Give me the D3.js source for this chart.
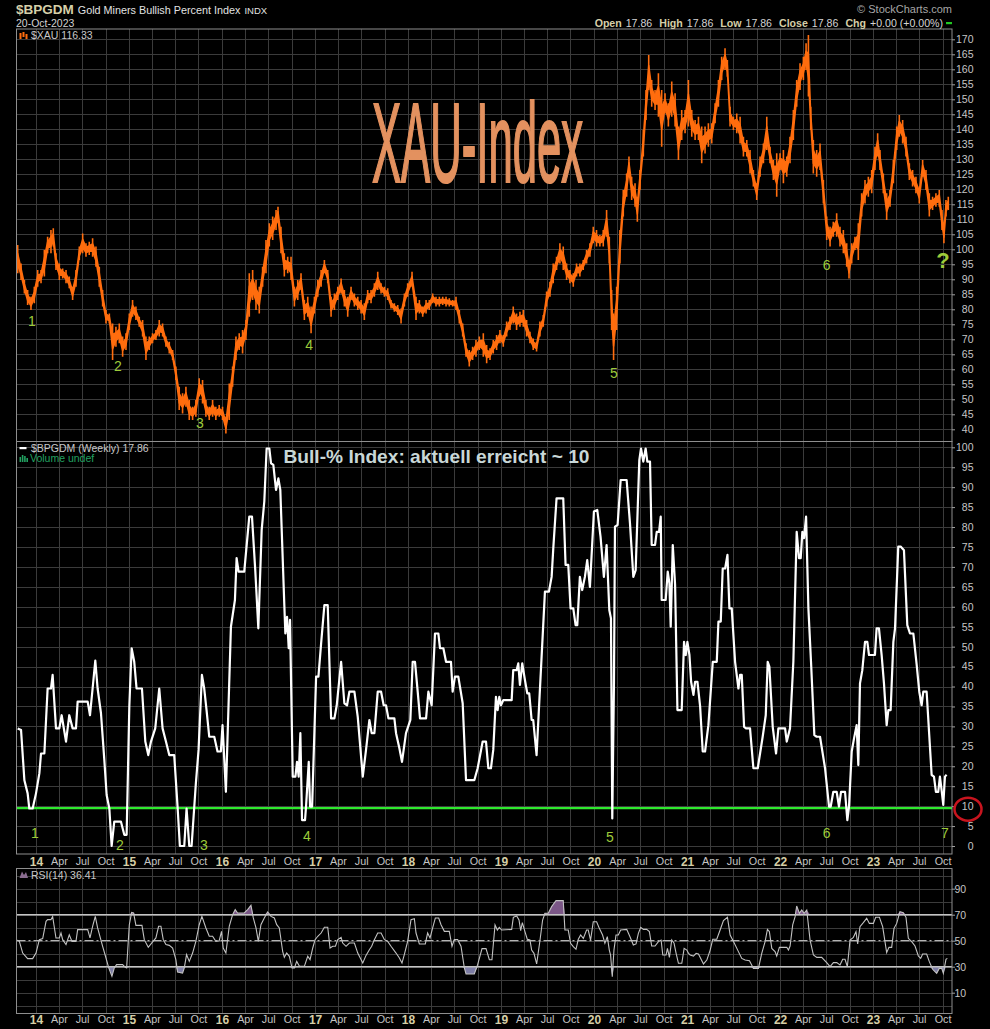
<!DOCTYPE html>
<html>
<head>
<meta charset="utf-8">
<script src="https://cdn.jsdelivr.net/npm/d3@7"></script>
<style>
html, body { margin: 0; padding: 0; background: #000; }
svg { display: block; }
text { font-family: "Liberation Sans", Arial, sans-serif; }
</style>
</head>
<body>
<div id="chart"></div>
<script>
// XAU: [decimal year, low, high]
const xauBars = [
[2013.803,92,101.4],[2013.839,89.8,95.3],[2013.875,85.3,89.8],[2013.910,81.4,86.4],[2013.946,79.8,84.2],
[2013.982,82,87.5],[2014.018,87.5,93.1],[2014.054,88.7,93.1],[2014.090,90.9,99.8],[2014.125,98.7,104.2],
[2014.161,98.7,106.4],[2014.186,100.9,107],[2014.215,93.1,98.7],[2014.251,89.8,95.3],[2014.287,90.3,93.6],
[2014.323,88.7,93.1],[2014.358,87,90.9],[2014.394,83.1,87.5],[2014.430,87.5,93.1],[2014.466,96.4,100.9],
[2014.502,98.7,105.3],[2014.538,97.5,102],[2014.573,98.1,102.5],[2014.609,97.5,103.7],[2014.645,94.2,100.9],
[2014.681,87.5,94.2],[2014.717,80.9,86.4],[2014.753,75.3,79.8],[2014.789,75.3,78.6],[2014.824,63.1,75.3],
[2014.860,67.5,74.2],[2014.896,68.7,75.3],[2014.932,64.2,70.9],[2014.968,66.4,72],[2015.004,73.1,78.6],
[2015.039,77.5,83.1],[2015.075,76.4,80.9],[2015.111,74.2,77.5],[2015.147,70.9,76.4],[2015.183,63.1,70.9],
[2015.219,66.4,70.9],[2015.254,68.7,72],[2015.290,69.8,73.1],[2015.326,70.9,76.4],[2015.362,70.9,75.3],
[2015.398,67.5,70.9],[2015.434,65.3,69.2],[2015.470,63.1,66.4],[2015.505,56.4,60.9],[2015.541,46.4,54.2],
[2015.577,45.3,52],[2015.613,47.5,54.2],[2015.649,43.1,49.8],[2015.685,43.1,47.5],[2015.720,44.2,49.8],
[2015.756,50.9,57],[2015.792,48.6,56.4],[2015.828,44.2,49.8],[2015.864,43.1,47.5],[2015.900,44.2,49.8],
[2015.935,43.1,47.5],[2015.971,44.2,48.1],[2016.007,43.1,47.5],[2016.043,38.6,44.2],[2016.079,43.1,55.3],
[2016.115,54.2,60.9],[2016.151,63.1,70.9],[2016.186,66.4,72],[2016.222,65.3,73.1],[2016.258,69.8,76.4],
[2016.294,77.5,92],[2016.330,83.1,93.1],[2016.366,79.8,89.8],[2016.401,78.6,87.5],[2016.437,87.5,94.2],
[2016.473,92,103.1],[2016.509,100.9,108.7],[2016.545,103.1,110.9],[2016.581,106.4,113.1],[2016.602,108.7,114.2],
[2016.634,98.7,107.5],[2016.670,90.9,98.7],[2016.706,92,97.5],[2016.742,89.8,97.5],[2016.778,80.9,87.5],
[2016.814,83.1,89.8],[2016.849,86.4,92],[2016.885,76.4,83.1],[2016.921,77.5,84.2],[2016.957,72,80.9],
[2016.993,78.6,84.2],[2017.029,84.2,89.8],[2017.065,87.5,93.1],[2017.100,92,96.4],[2017.136,88.7,93.1],
[2017.172,77.5,84.2],[2017.208,79.8,85.3],[2017.244,83.1,87.5],[2017.280,85.3,90.3],[2017.315,80.9,86.4],
[2017.351,77.5,84.2],[2017.387,83.1,87.5],[2017.423,80.9,85.3],[2017.459,79.8,84.2],[2017.495,78.6,83.1],
[2017.530,76.4,82],[2017.566,82,86.4],[2017.602,82,86.4],[2017.638,84.2,88.7],[2017.674,86.4,92.5],
[2017.710,85.3,88.7],[2017.746,84.2,87.5],[2017.781,83.1,87],[2017.817,80.3,83.1],[2017.853,79.2,82],
[2017.889,78.1,81.4],[2017.925,75.3,80.3],[2017.961,80.9,85.3],[2017.996,84.2,88.7],[2018.043,87.5,92.5],
[2018.086,76.4,84.2],[2018.122,78.6,83.1],[2018.158,77.5,80.9],[2018.194,78.6,83.1],[2018.229,79.8,83.1],
[2018.265,82,85.3],[2018.301,80.9,84.2],[2018.337,80.9,84.2],[2018.373,81.4,84.2],[2018.409,80.9,84.2],
[2018.444,80.9,83.7],[2018.480,80.9,83.1],[2018.516,79.8,84.2],[2018.552,75.3,79.8],[2018.588,70.9,75.3],
[2018.624,64.2,68.7],[2018.659,60.9,66.4],[2018.695,63.1,67.5],[2018.731,64.2,69.8],[2018.767,66.4,70.9],
[2018.810,64.2,72],[2018.846,62,68.1],[2018.882,63.1,67],[2018.917,65.3,69.8],[2018.953,66.4,71.4],
[2018.989,68.7,73.1],[2019.025,67.5,71.4],[2019.061,70.9,75.9],[2019.097,73.1,77.5],[2019.132,75.3,80.9],
[2019.168,73.1,78.6],[2019.204,74.2,79.2],[2019.240,74.2,79.8],[2019.276,70.9,76.4],[2019.312,68.7,72.5],
[2019.347,66.4,70.3],[2019.383,65.9,69.2],[2019.419,70.9,75.9],[2019.455,74.2,78.1],[2019.491,80.9,85.9],
[2019.527,84.2,89.2],[2019.562,88.7,95.3],[2019.598,93.1,97.5],[2019.634,95.3,102],[2019.670,93.1,100.9],
[2019.706,89.8,95.3],[2019.742,88.7,93.1],[2019.778,87.5,92],[2019.813,90.9,95.3],[2019.849,90.9,95.3],
[2019.885,93.1,96.4],[2019.921,95.3,99.8],[2019.957,97.5,102],[2019.993,102,107.5],[2020.028,100.9,106.4],
[2020.064,100.9,104.8],[2020.100,100.9,106.4],[2020.136,104.2,113.1],[2020.165,95.3,104.2],[2020.190,73.1,86.4],
[2020.211,63.1,78.6],[2020.244,73.1,87.5],[2020.279,95.3,106.4],[2020.315,110.9,119.8],[2020.351,117.5,125.3],
[2020.376,124.2,130.9],[2020.405,116.4,124.2],[2020.441,114.2,122],[2020.466,109.2,117.5],[2020.494,119.8,126.4],
[2020.530,130.9,139.8],[2020.559,143.1,153.1],[2020.588,153.1,164.8],[2020.620,147.5,156.4],[2020.656,146.4,153.1],
[2020.692,144.2,158.7],[2020.727,134.2,153.1],[2020.763,145.3,152],[2020.799,140.9,148.7],[2020.835,144.2,155.9],
[2020.871,140.9,152],[2020.907,129.8,140.9],[2020.942,136.4,146.4],[2020.978,138.7,146.4],[2021.014,140.9,156.4],
[2021.050,137.5,146.4],[2021.086,136.4,143.1],[2021.122,136.4,144.2],[2021.157,128.7,140.9],[2021.193,131.9,140.9],
[2021.229,134.2,142],[2021.265,135.3,142],[2021.301,142,148.7],[2021.337,147.5,156.4],[2021.372,156.4,164.2],
[2021.408,159.8,167],[2021.433,157.5,163.1],[2021.462,140.9,147.5],[2021.498,139.8,144.2],[2021.534,138.7,145.3],
[2021.570,135.3,144.2],[2021.606,130.9,137.5],[2021.642,130.9,136.4],[2021.677,125.3,133.1],[2021.713,120.9,126.4],
[2021.749,116.4,122],[2021.785,124.2,130.9],[2021.821,128.7,135.3],[2021.857,133.1,144.2],[2021.892,128.7,134.2],
[2021.928,123.1,129.8],[2021.964,117.5,132],[2022.000,126.4,132],[2022.036,122,133.1],[2022.072,124.2,130.9],
[2022.107,128.7,137.5],[2022.143,136.4,146.4],[2022.179,147.5,156.4],[2022.215,153.1,162],[2022.251,156.4,164.2],
[2022.280,159.8,168.7],[2022.305,150.9,171.4],[2022.330,139.8,147.5],[2022.358,125.3,136.4],[2022.394,124.2,133.1],
[2022.430,126.4,135.3],[2022.466,115.3,123.1],[2022.502,103.1,110.9],[2022.538,100.9,107.5],[2022.573,104.2,109.2],
[2022.609,104.2,112],[2022.645,100.9,107.5],[2022.681,98.7,106.4],[2022.717,94.2,102],[2022.742,90.3,96.4],
[2022.771,95.3,102],[2022.806,99.8,104.2],[2022.842,96.4,108.7],[2022.878,110.9,118.7],[2022.914,115.3,123.1],
[2022.950,117.5,124.2],[2022.986,118.7,126.4],[2023.021,126.4,134.2],[2023.050,130.9,138.7],[2023.075,126.4,133.1],
[2023.111,118.7,125.3],[2023.147,109.8,118.7],[2023.183,114.2,119.8],[2023.219,122,129.8],[2023.255,133.1,140.9],
[2023.283,137.5,144.8],[2023.319,135.3,143.1],[2023.355,130.9,137.5],[2023.391,123.1,128.7],[2023.426,120.9,126.4],
[2023.462,118.7,124.2],[2023.498,115.3,120.9],[2023.534,124.2,129.8],[2023.570,119.8,126.4],[2023.606,110.9,118.7],
[2023.641,113.1,117.5],[2023.677,114.2,118.7],[2023.713,114.2,119.8],[2023.742,106.4,113.1],[2023.763,102,108.7],
[2023.785,110.9,116.4],[2023.810,113.1,117.5]
];

// $BPGDM weekly: [decimal year, percent]
const bpgdm = [
[2013.803,29.5],[2013.839,29.1],[2013.875,16.5],[2013.910,13.2],[2013.928,9.4],[2013.964,9.4],[2014.000,13.2],
[2014.036,18.2],[2014.054,23.2],[2014.090,23.2],[2014.125,39.5],[2014.161,39.5],[2014.179,42.9],[2014.215,29.5],
[2014.251,29.5],[2014.276,32.8],[2014.323,26.2],[2014.358,32.8],[2014.394,29.5],[2014.430,29.5],[2014.448,36.2],
[2014.556,36.2],[2014.581,32.8],[2014.609,39.5],[2014.638,46.5],[2014.663,39.5],[2014.699,33.3],[2014.735,21.6],
[2014.760,12.8],[2014.789,9.4],[2014.814,0],[2014.842,6.1],[2014.914,6.1],[2014.950,2.8],[2014.975,2.8],
[2015.004,35],[2015.029,49.6],[2015.057,46.2],[2015.082,39.5],[2015.140,39.5],[2015.176,26.2],[2015.208,22.8],
[2015.237,26.2],[2015.283,29.5],[2015.326,39.5],[2015.362,29.5],[2015.398,26.2],[2015.434,22.8],[2015.487,22.8],
[2015.523,9.9],[2015.548,0],[2015.595,0],[2015.620,9.4],[2015.649,0],[2015.674,0],[2015.720,15.7],[2015.749,24.1],
[2015.785,42.9],[2015.810,39.5],[2015.835,34.1],[2015.864,27.4],[2015.918,27.4],[2015.953,23.7],[2015.989,23.7],
[2016.007,30.3],[2016.043,13.6],[2016.097,55],[2016.140,61.7],[2016.158,72.2],[2016.179,68.8],[2016.240,68.8],
[2016.294,82.6],[2016.323,82.6],[2016.358,69.2],[2016.391,54.6],[2016.427,79.3],[2016.455,86.4],[2016.480,99.7],
[2016.509,99.7],[2016.527,96],[2016.552,95.6],[2016.581,89.3],[2016.606,92.2],[2016.627,89.3],[2016.670,60.4],
[2016.681,53.3],[2016.699,57.5],[2016.717,49.6],[2016.731,56.7],[2016.760,17.4],[2016.789,17.4],[2016.806,21.1],
[2016.824,17.4],[2016.842,28.3],[2016.860,6.5],[2016.892,6.5],[2016.903,9.9],[2016.932,21.1],[2016.946,9.9],
[2016.968,9.9],[2017.011,42.5],[2017.036,42.5],[2017.065,50.8],[2017.100,60.4],[2017.136,60.4],[2017.172,32],
[2017.208,32],[2017.233,35.3],[2017.280,46.2],[2017.315,35.8],[2017.344,35.3],[2017.369,38.7],[2017.423,38.7],
[2017.459,32.4],[2017.513,17.4],[2017.548,24.1],[2017.584,31.6],[2017.609,28.3],[2017.638,28.3],[2017.674,38.7],
[2017.710,38.7],[2017.738,35.3],[2017.763,35.3],[2017.789,32],[2017.853,32],[2017.871,28.3],[2017.907,24.5],
[2017.935,21.1],[2017.978,28.3],[2018.025,31.6],[2018.050,46.2],[2018.075,46.2],[2018.104,38.7],[2018.129,32],
[2018.194,32],[2018.219,38.7],[2018.254,35.3],[2018.290,53.3],[2018.326,53.3],[2018.344,49.6],[2018.380,49.6],
[2018.409,46.2],[2018.462,46.2],[2018.480,38.7],[2018.505,42.5],[2018.541,42.5],[2018.588,35.8],[2018.624,16.5],
[2018.713,16.5],[2018.749,19.5],[2018.803,26.2],[2018.839,26.2],[2018.864,19.5],[2018.892,19.5],[2018.917,24.1],
[2018.946,37.4],[2018.964,34.1],[2018.982,37.4],[2019.000,35.3],[2019.025,36.6],[2019.115,36.6],[2019.132,44.1],
[2019.168,44.1],[2019.186,45.8],[2019.204,40.4],[2019.229,45.8],[2019.258,41.6],[2019.283,38.3],[2019.304,38.3],
[2019.330,31.6],[2019.347,31.6],[2019.383,22.8],[2019.473,63.8],[2019.516,63.8],[2019.545,67.5],[2019.563,74.7],
[2019.598,87.2],[2019.670,87.2],[2019.695,70.5],[2019.724,70.5],[2019.749,59.6],[2019.778,59.6],[2019.803,55.4],
[2019.821,55.4],[2019.849,67.5],[2019.874,64.2],[2019.903,67.5],[2019.928,71.7],[2019.957,65],[2020.000,83.9],
[2020.036,84.3],[2020.071,77.6],[2020.107,67.5],[2020.136,75.5],[2020.165,59.2],[2020.183,57.1],[2020.197,6.9],
[2020.215,40.8],[2020.226,80.1],[2020.254,80.5],[2020.287,91.8],[2020.351,91.8],[2020.387,80.9],[2020.423,67.5],
[2020.448,69.2],[2020.487,96.8],[2020.505,99.7],[2020.530,96.4],[2020.555,99.7],[2020.573,96.4],[2020.602,96.4],
[2020.620,75.5],[2020.656,75.5],[2020.674,78.8],[2020.699,78.8],[2020.717,82.6],[2020.727,61.7],[2020.770,61.7],
[2020.792,68.8],[2020.810,65.9],[2020.824,55],[2020.846,75.5],[2020.871,65.5],[2020.896,34.1],[2020.942,34.1],
[2020.967,51.2],[2020.985,47.9],[2021.003,51.2],[2021.025,47.9],[2021.043,41.2],[2021.068,37.9],[2021.086,41.2],
[2021.111,41.2],[2021.140,35],[2021.168,23.7],[2021.193,23.7],[2021.229,30.3],[2021.276,46.2],[2021.319,46.2],
[2021.337,56.3],[2021.362,56.3],[2021.383,69.6],[2021.409,69.6],[2021.434,73],[2021.455,59.6],[2021.480,59.6],
[2021.516,46.2],[2021.552,39.5],[2021.570,42.9],[2021.588,42.9],[2021.613,29.9],[2021.634,29.5],[2021.677,29.5],
[2021.713,19.5],[2021.760,19.5],[2021.813,27.4],[2021.846,32.8],[2021.867,46.2],[2021.885,45],[2021.921,29.9],
[2021.957,23.2],[2021.982,29.5],[2022.054,29.5],[2022.072,26.2],[2022.107,29.5],[2022.143,46.2],[2022.179,78.8],
[2022.204,72.2],[2022.222,72.2],[2022.240,78.8],[2022.258,77.2],[2022.280,82.6],[2022.305,59.6],[2022.333,46.2],
[2022.369,27.8],[2022.394,27.4],[2022.430,27.4],[2022.484,19.5],[2022.527,9.9],[2022.545,9.9],[2022.573,13.6],
[2022.609,13.6],[2022.634,9.9],[2022.656,13.6],[2022.699,13.6],[2022.724,6.5],[2022.742,9.9],[2022.771,23.7],
[2022.796,27],[2022.824,30.3],[2022.842,20.3],[2022.860,40.8],[2022.885,44.1],[2022.914,51.2],[2022.939,51.2],
[2022.957,47.9],[2023.021,47.9],[2023.039,54.6],[2023.064,54.6],[2023.093,47.9],[2023.118,40.8],[2023.147,30.3],
[2023.165,34.1],[2023.190,34.1],[2023.219,51.2],[2023.237,54.6],[2023.272,75.1],[2023.297,75.1],[2023.333,74.2],
[2023.369,55.4],[2023.398,53.3],[2023.434,53.3],[2023.470,45.4],[2023.498,38.7],[2023.523,35.3],[2023.541,38.7],
[2023.577,38.7],[2023.631,17.8],[2023.656,17.4],[2023.677,13.6],[2023.702,13.6],[2023.720,17.4],[2023.738,14],
[2023.756,10.3],[2023.774,17.4],[2023.792,17.86]
];

// RSI(14) of $XAU: [decimal year, value]
const rsi = [
[2013.785,50.8],[2013.821,49.5],[2013.857,40.5],[2013.910,36.2],[2013.964,36.2],[2014.000,40.5],[2014.036,50.8],
[2014.072,51.6],[2014.108,64.9],[2014.125,66.2],[2014.161,66.2],[2014.179,68.7],[2014.215,52.1],[2014.251,52.1],
[2014.269,55.9],[2014.287,50.8],[2014.323,47],[2014.358,54.6],[2014.387,49.5],[2014.430,49.5],[2014.448,58.5],
[2014.556,58.5],[2014.581,52.1],[2014.609,61.1],[2014.638,68.7],[2014.663,59.8],[2014.717,45.7],[2014.753,36.7],
[2014.781,29.5],[2014.817,22.6],[2014.842,29],[2014.867,31.6],[2014.932,31.6],[2014.961,29.5],[2014.975,29],
[2015.004,62.3],[2015.029,71.8],[2015.050,71.3],[2015.075,61.8],[2015.140,61.8],[2015.165,50.8],[2015.208,44.9],
[2015.244,48.2],[2015.290,52.1],[2015.319,61.1],[2015.344,61.1],[2015.369,50.8],[2015.398,47],[2015.434,46.4],
[2015.470,44.4],[2015.505,35.4],[2015.523,25.9],[2015.577,25.1],[2015.595,29],[2015.620,39.3],[2015.649,34.1],
[2015.685,40.5],[2015.720,49.5],[2015.756,62.3],[2015.785,68.7],[2015.828,59.8],[2015.864,53.4],[2015.900,53.4],
[2015.935,49.5],[2015.971,50],[2015.996,57.2],[2016.014,44.4],[2016.043,40.5],[2016.079,61.1],[2016.115,70],
[2016.143,73.9],[2016.168,71.3],[2016.240,71.3],[2016.276,73.9],[2016.312,77.2],[2016.337,67.5],[2016.366,59.8],
[2016.391,49.5],[2016.419,62.3],[2016.455,67.5],[2016.491,72.1],[2016.527,68.7],[2016.563,67.5],[2016.588,62.3],
[2016.616,59.8],[2016.652,41.8],[2016.670,37.2],[2016.695,40.5],[2016.724,38],[2016.753,29],[2016.778,29],
[2016.803,34.1],[2016.832,30.3],[2016.885,30.3],[2016.921,38],[2016.946,35.4],[2016.975,44.4],[2017.000,50.8],
[2017.029,53.4],[2017.065,55.9],[2017.100,60.3],[2017.136,60.3],[2017.161,44.4],[2017.190,45.7],[2017.219,45.7],
[2017.244,50.8],[2017.280,52.6],[2017.297,48.2],[2017.333,45.7],[2017.369,48.2],[2017.423,48.2],[2017.459,40.5],
[2017.513,32.8],[2017.548,38.7],[2017.584,43.1],[2017.609,45.7],[2017.638,50.8],[2017.674,55.9],[2017.710,55.9],
[2017.746,50.8],[2017.781,49.5],[2017.817,45.7],[2017.871,40.5],[2017.907,36.7],[2017.935,32.8],[2017.960,39.3],
[2017.996,49.5],[2018.032,66.2],[2018.068,66.9],[2018.086,55.9],[2018.122,47.5],[2018.186,47.5],[2018.211,55.9],
[2018.237,52.1],[2018.265,59.8],[2018.294,67.5],[2018.330,67.5],[2018.355,62.3],[2018.391,57.2],[2018.444,57.2],
[2018.473,45.7],[2018.498,50.8],[2018.534,50.8],[2018.570,45.7],[2018.606,29],[2018.624,24.4],[2018.713,24.4],
[2018.749,31.6],[2018.796,43.9],[2018.839,43.9],[2018.875,35.4],[2018.903,35.4],[2018.936,62.1],[2018.961,58.2],
[2018.982,60.3],[2019.007,58.2],[2019.115,58.7],[2019.133,68],[2019.169,69],[2019.194,65.9],[2019.212,57.7],
[2019.230,63.9],[2019.258,57],[2019.283,51.1],[2019.312,50.5],[2019.330,42.8],[2019.355,40.3],[2019.384,32.1],
[2019.420,50.5],[2019.448,65.9],[2019.473,71.1],[2019.509,71.1],[2019.545,76.2],[2019.592,80.8],[2019.670,80.8],
[2019.688,58.2],[2019.724,58.2],[2019.749,48],[2019.778,45.4],[2019.807,43.4],[2019.832,51.1],[2019.857,54.4],
[2019.886,51.8],[2019.921,58.2],[2019.939,58.2],[2019.964,50.5],[2019.993,64.6],[2020.029,64.6],[2020.058,59.5],
[2020.093,54.4],[2020.118,48],[2020.144,53.1],[2020.165,42.8],[2020.179,39],[2020.197,22.3],[2020.215,42.8],
[2020.237,54.4],[2020.262,54.4],[2020.287,58.2],[2020.352,58.7],[2020.387,53.1],[2020.423,46.7],[2020.452,47.5],
[2020.477,55.7],[2020.502,60.3],[2020.531,58.7],[2020.566,58.7],[2020.595,57],[2020.620,45.9],[2020.656,45.9],
[2020.692,49.3],[2020.721,50.5],[2020.739,39],[2020.774,39],[2020.789,44.1],[2020.810,37.2],[2020.835,50.5],
[2020.860,48],[2020.882,40.3],[2020.907,32.6],[2020.943,32.6],[2020.968,44.1],[2020.997,42.8],[2021.015,40.3],
[2021.033,39],[2021.068,38.2],[2021.097,40.3],[2021.122,39.8],[2021.176,32.1],[2021.212,35.1],[2021.248,42.8],
[2021.276,51.1],[2021.319,51.1],[2021.355,58.2],[2021.391,65.4],[2021.434,68],[2021.463,54.4],[2021.499,49.3],
[2021.552,41.6],[2021.588,36.4],[2021.624,35.1],[2021.671,34.6],[2021.714,28.7],[2021.767,28.7],[2021.803,40.3],
[2021.839,49.3],[2021.864,58.7],[2021.885,57],[2021.911,44.1],[2021.946,41.6],[2021.964,38.2],[2021.993,44.9],
[2022.072,44.9],[2022.090,42.8],[2022.108,45.9],[2022.136,62.1],[2022.162,68.5],[2022.179,76.7],[2022.208,71.1],
[2022.233,73.6],[2022.258,71.1],[2022.287,73.6],[2022.323,50.5],[2022.359,39],[2022.395,37.2],[2022.448,37.2],
[2022.502,33.1],[2022.538,30],[2022.574,33.1],[2022.610,33.1],[2022.645,31.3],[2022.674,35.7],[2022.699,35.7],
[2022.724,30],[2022.753,50.5],[2022.789,52.6],[2022.817,57],[2022.835,47.5],[2022.860,60.8],[2022.896,63.9],
[2022.932,67.2],[2022.961,63.3],[2023.004,63.3],[2023.029,68],[2023.069,68],[2023.104,60.8],[2023.147,40.8],
[2023.172,44.9],[2023.201,44.9],[2023.226,59.5],[2023.255,63.3],[2023.290,72.3],[2023.326,71.6],[2023.355,68],
[2023.380,51.8],[2023.416,49.3],[2023.452,45.9],[2023.488,38.2],[2023.513,36.4],[2023.534,39.8],[2023.577,39.8],
[2023.606,33.9],[2023.642,28],[2023.685,24.9],[2023.713,28.7],[2023.739,28.7],[2023.757,24.9],[2023.785,35.7],
[2023.800,36.41]
];

// numbered lows: [label, decimal year, value]
const priceMarks = [["1",2013.957,76.1],["2",2014.882,61.1],["3",2015.763,42.1],["4",2016.935,68.1],
  ["5",2020.215,58.8],["6",2022.502,94.8]];
const bullMarks = [["1",2013.989,3.3],["2",2014.903,0.3],["3",2015.806,0.3],["4",2016.911,2.5],
  ["5",2020.172,2.3],["6",2022.502,3.3],["7",2023.774,3.3]];

const priceTicks = d3.range(40, 171, 5);
const bullTicks = d3.range(0, 101, 5);
const rsiTicks = [10, 30, 50, 70, 90];
const rsiGrid = d3.range(0, 101, 10);
const bullLevel = 9.5;

const svg = d3.select("#chart")
    .append("svg")
    .attr("width", 990)
    .attr("height", 1029)
    .style("background", "#000");

function yearDate(t) {
    const y = Math.floor(t);
    const a = Date.UTC(y, 0, 1), b = Date.UTC(y + 1, 0, 1);
    return new Date(a + (t - y) * (b - a));
}

const left = 16.5, right = 952;
const pPrice = { top: 29, bottom: 441.5 };
const pBull = { top: 441.5, bottom: 854 };
const pRsi = { top: 868.5, bottom: 1013.5 };

const x = d3.scaleUtc()
    .domain([new Date(Date.UTC(2014, 0, 1)), new Date(Date.UTC(2023, 0, 1))])
    .range([36, 873]);
const yPrice = d3.scaleLinear().domain([40, 170]).range([429.3, 39.3]);
const yBull = d3.scaleLinear().domain([0, 100]).range([846, 447.3]);
const yRsi = d3.scaleLinear().domain([10, 90]).range([992.7, 888.7]);

const quarters = d3.utcMonths(new Date(Date.UTC(2014, 0, 1)), new Date(Date.UTC(2023, 10, 1)), 3);

const defs = svg.append("defs");
[["clipPrice", pPrice], ["clipBull", pBull], ["clipRsi", pRsi]].forEach(([id, p]) => {
    defs.append("clipPath").attr("id", id)
        .append("rect")
        .attr("x", left).attr("y", p.top)
        .attr("width", right - left).attr("height", p.bottom - p.top);
});

function grid(p, yScale, values) {
    const g = svg.append("g").attr("stroke", "#3b3b3b").attr("stroke-width", 1);
    g.selectAll(".h").data(values.filter(v => yScale(v) > p.top && yScale(v) < p.bottom))
        .enter().append("line")
        .attr("x1", left).attr("x2", right)
        .attr("y1", d => Math.round(yScale(d)) + 0.5).attr("y2", d => Math.round(yScale(d)) + 0.5);
    g.selectAll(".v").data(quarters)
        .enter().append("line")
        .attr("x1", d => Math.round(x(d)) + 0.5).attr("x2", d => Math.round(x(d)) + 0.5)
        .attr("y1", p.top).attr("y2", p.bottom);
}
grid(pPrice, yPrice, priceTicks);
grid(pBull, yBull, bullTicks);
grid(pRsi, yRsi, rsiGrid);

// big annotations
svg.append("text")
    .attr("x", 372).attr("y", 182)
    .attr("font-family", "'Liberation Sans Narrow', 'Liberation Sans', sans-serif")
    .attr("font-size", 114)
    .attr("textLength", 211)
    .attr("lengthAdjust", "spacingAndGlyphs")
    .attr("fill", "#e3915f")
    .attr("stroke", "#e3915f")
    .attr("stroke-width", 2.2)
    .text("XAU-Index");

svg.append("text")
    .attr("x", 283.5).attr("y", 462.5)
    .attr("font-size", 19).attr("font-weight", "bold")
    .attr("textLength", 306)
    .attr("lengthAdjust", "spacingAndGlyphs")
    .attr("fill", "#c8d7d7")
    .text("Bull-% Index: aktuell erreicht ~ 10");

// XAU price: a narrow core band plus one high-low bar per sample
const xauG = svg.append("g").attr("clip-path", "url(#clipPrice)");
xauG.append("path")
    .datum(xauBars)
    .attr("d", d3.area()
        .x(d => x(yearDate(d[0])))
        .y0(d => yPrice(d[1] + (d[2] - d[1]) * 0.3))
        .y1(d => yPrice(d[2] - (d[2] - d[1]) * 0.3)))
    .attr("fill", "#ff6d0e")
    .attr("stroke", "#ff6d0e")
    .attr("stroke-width", 1.5)
    .attr("stroke-linejoin", "round");
xauG.selectAll(".bar").data(xauBars)
    .enter().append("line")
    .attr("x1", d => x(yearDate(d[0]))).attr("x2", d => x(yearDate(d[0])))
    .attr("y1", d => yPrice(d[1])).attr("y2", d => yPrice(d[2]))
    .attr("stroke", "#ff6d0e")
    .attr("stroke-width", 1.6);

// bullish percent
svg.append("line")
    .attr("x1", left).attr("x2", right)
    .attr("y1", yBull(bullLevel)).attr("y2", yBull(bullLevel))
    .attr("stroke", "#2ee82e").attr("stroke-width", 2.2);

const bullLine = d3.line()
    .x(d => x(yearDate(d[0])))
    .y(d => yBull(d[1]));
svg.append("path")
    .datum(bpgdm)
    .attr("clip-path", "url(#clipBull)")
    .attr("d", bullLine)
    .attr("fill", "none")
    .attr("stroke", "#ffffff")
    .attr("stroke-width", 2.2)
    .attr("stroke-linejoin", "round");

// RSI
const rsiG = svg.append("g").attr("clip-path", "url(#clipRsi)");
rsiG.append("path").datum(rsi)
    .attr("d", d3.area().x(d => x(yearDate(d[0]))).y0(yRsi(70)).y1(d => yRsi(Math.max(d[1], 70))))
    .attr("fill", "#7b5787");
rsiG.append("path").datum(rsi)
    .attr("d", d3.area().x(d => x(yearDate(d[0]))).y0(yRsi(30)).y1(d => yRsi(Math.min(d[1], 30))))
    .attr("fill", "#7c7ca4");
[30, 70].forEach(v => {
    rsiG.append("line").attr("x1", left).attr("x2", right)
        .attr("y1", yRsi(v)).attr("y2", yRsi(v))
        .attr("stroke", "#c4c4c4").attr("stroke-width", 1.4);
});
rsiG.append("line").attr("x1", left).attr("x2", right)
    .attr("y1", yRsi(50)).attr("y2", yRsi(50))
    .attr("stroke", "#b4b4b4").attr("stroke-width", 1.2)
    .attr("stroke-dasharray", "9,3,2,3");
rsiG.append("path").datum(rsi)
    .attr("d", d3.line().x(d => x(yearDate(d[0]))).y(d => yRsi(d[1])))
    .attr("fill", "none")
    .attr("stroke", "#c2c2c2")
    .attr("stroke-width", 1.1);

// panel borders
[pPrice, pBull, pRsi].forEach(p => {
    svg.append("rect")
        .attr("x", left).attr("y", p.top)
        .attr("width", right - left).attr("height", p.bottom - p.top)
        .attr("fill", "none").attr("stroke", "#8e8e8e").attr("stroke-width", 1);
});

// numbered lows
function marks(data, yScale) {
    svg.append("g").selectAll("text").data(data).enter().append("text")
        .attr("x", d => x(yearDate(d[1])))
        .attr("y", d => yScale(d[2]))
        .attr("text-anchor", "middle")
        .attr("dominant-baseline", "central")
        .attr("font-size", 14)
        .attr("fill", "#9dcb3a")
        .text(d => d[0]);
}
marks(priceMarks, yPrice);
marks(bullMarks, yBull);
svg.append("text")
    .attr("x", x(yearDate(2023.753))).attr("y", yPrice(96.4))
    .attr("text-anchor", "middle").attr("dominant-baseline", "central")
    .attr("font-size", 22).attr("font-weight", "bold")
    .attr("fill", "#9dcb3a")
    .text("?");

// right axes
function rightAxis(scale, values, anchorEnd) {
    const g = svg.append("g")
        .attr("transform", `translate(${right},0)`)
        .call(d3.axisRight(scale).tickValues(values).tickSize(3).tickPadding(2));
    g.select(".domain").remove();
    g.selectAll(".tick line").attr("stroke", "#a0a0a0");
    const t = g.selectAll(".tick text")
        .attr("fill", "#c6c6c6")
        .attr("font-size", 10.5)
        .attr("font-family", "'Liberation Sans', Arial, sans-serif");
    if (anchorEnd) t.attr("x", 21.5).attr("text-anchor", "end");
    else t.attr("x", 2.5);
}
rightAxis(yPrice, priceTicks, true);
rightAxis(yBull, bullTicks, true);
rightAxis(yRsi, rsiTicks, false);

svg.append("ellipse")
    .attr("cx", 968).attr("cy", yBull(10) + 3)
    .attr("rx", 13.5).attr("ry", 11.5)
    .attr("fill", "none").attr("stroke", "#c8141e").attr("stroke-width", 2.5);

// date axes
function dateAxis(yTop) {
    const g = svg.append("g")
        .attr("transform", `translate(0,${yTop})`)
        .call(d3.axisBottom(x).tickValues(quarters).tickSize(0).tickPadding(0)
            .tickFormat(d => d.getUTCMonth() === 0 ? d3.utcFormat("%y")(d) : d3.utcFormat("%b")(d)));
    g.select(".domain").remove();
    g.selectAll(".tick text")
        .attr("font-family", "'Liberation Sans', Arial, sans-serif")
        .attr("font-size", d => d.getUTCMonth() === 0 ? 12 : 10.8)
        .attr("font-weight", d => d.getUTCMonth() === 0 ? "bold" : "normal")
        .attr("fill", d => d.getUTCMonth() === 0 ? "#d5cea6" : "#c4c4c4");
}
dateAxis(857);
dateAxis(1015);

// header
const head = svg.append("text").attr("x", 16).attr("y", 14);
head.append("tspan").attr("font-size", 13.5).attr("font-weight", "bold").attr("fill", "#d6cfa8").text("$BPGDM");
head.append("tspan").attr("dx", 4).attr("font-size", 10.8).attr("fill", "#e2e2e2").text("Gold Miners Bullish Percent Index");
head.append("tspan").attr("dx", 4).attr("font-size", 9.5).attr("fill", "#e2e2e2").text("INDX");
svg.append("text").attr("x", 16).attr("y", 27).attr("font-size", 10.5).attr("fill", "#d2d2d2").text("20-Oct-2023");

svg.append("text").attr("x", 952).attr("y", 13).attr("text-anchor", "end")
    .attr("font-size", 11).attr("fill", "#a6a6a6").text("© StockCharts.com");

const ohlc = [["Open", "17.86"], ["High", "17.86"], ["Low", "17.86"], ["Close", "17.86"], ["Chg", "+0.00 (+0.00%)"]];
const oh = svg.append("text").attr("x", 943).attr("y", 26.5).attr("text-anchor", "end").attr("font-size", 10.6);
ohlc.forEach((d, i) => {
    oh.append("tspan").attr("dx", i ? 7 : 0).attr("font-weight", "bold").attr("fill", "#d6cfa8").text(d[0]);
    oh.append("tspan").attr("dx", 4).attr("fill", "#d4d4d4").text(d[1]);
});
svg.append("rect").attr("x", 946).attr("y", 22).attr("width", 6).attr("height", 2.2).attr("fill", "#22c822");

// panel legends
const leg = svg.append("g").attr("font-size", 10.5).attr("font-family", "'DejaVu Sans', sans-serif");
leg.append("rect").attr("x", 19.5).attr("y", 33).attr("width", 2).attr("height", 6).attr("fill", "#ff6d0e");
leg.append("rect").attr("x", 22.5).attr("y", 32).attr("width", 2).attr("height", 5).attr("fill", "#ff6d0e");
leg.append("rect").attr("x", 25.5).attr("y", 34).attr("width", 2).attr("height", 5).attr("fill", "#ff6d0e");
leg.append("text").attr("x", 31).attr("y", 39).attr("fill", "#c8c8c8").text("$XAU 116.33");

leg.append("rect").attr("x", 19.5).attr("y", 447).attr("width", 7).attr("height", 2.2).attr("fill", "#ffffff");
leg.append("text").attr("x", 31).attr("y", 452).attr("fill", "#c8c8c8").text("$BPGDM (Weekly) 17.86");
[[19.5, 457, 5], [21.8, 455, 7], [24.1, 456, 6], [26.4, 458, 4]].forEach(b => {
    leg.append("rect").attr("x", b[0]).attr("y", b[1]).attr("width", 1.6).attr("height", b[2]).attr("fill", "#22a060");
});
leg.append("text").attr("x", 30).attr("y", 462).attr("fill", "#22a060").text("Volume undef");

leg.append("path").attr("d", "M19.5,878 L22,871.5 L24,875 L26,872 L28,878 Z").attr("fill", "#8a6c90");
leg.append("text").attr("x", 31).attr("y", 879).attr("fill", "#c8c8c8").text("RSI(14) 36.41");
</script>
</body>
</html>
